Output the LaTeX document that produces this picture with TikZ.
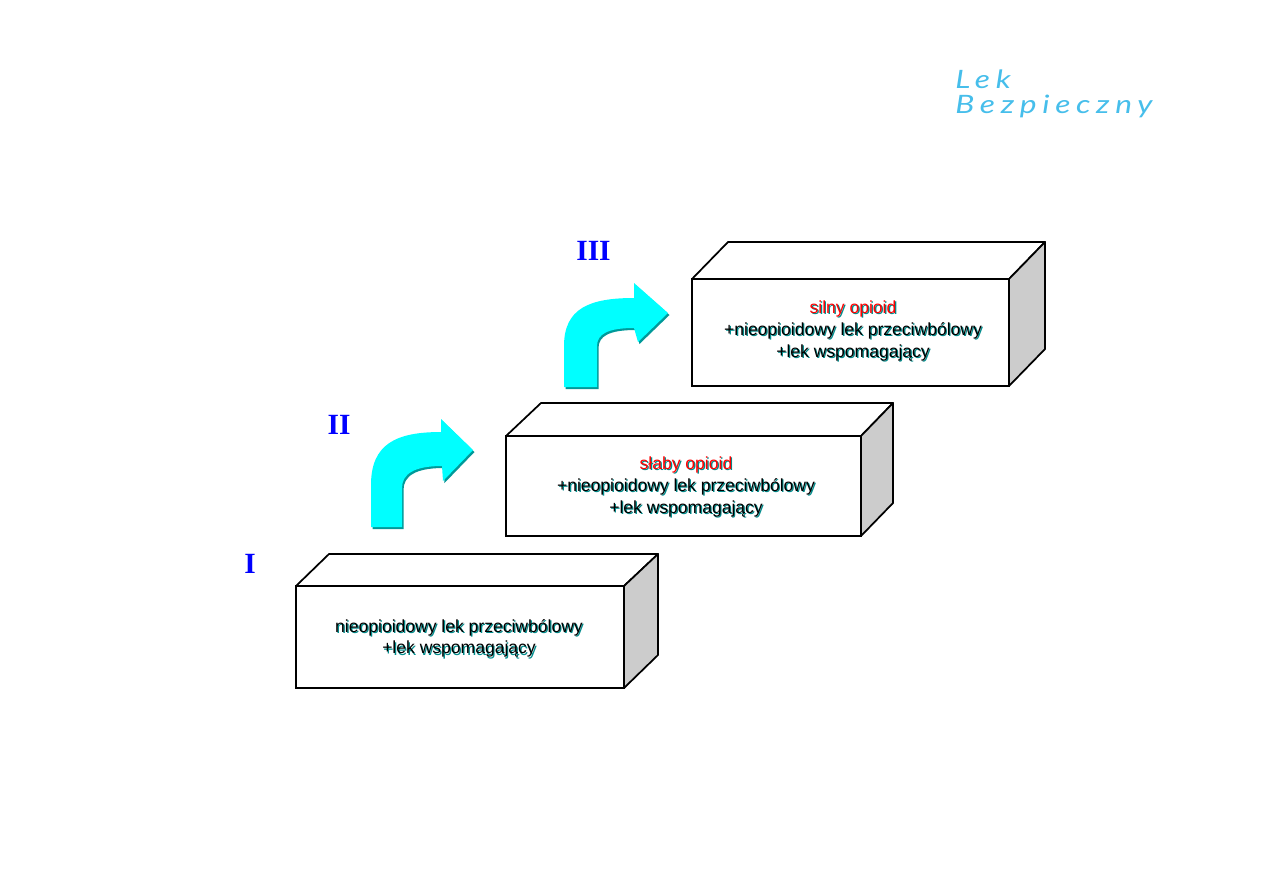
\documentclass[tikz,border=0pt]{standalone}
\usepackage{fontspec}
\setmainfont{Liberation Sans}
\newfontfamily\numeralfont{Liberation Serif}
\newfontfamily\logofont[LetterSpace=18]{Lato Italic}
\definecolor{stepblue}{RGB}{0,0,255}
\definecolor{arrowcyan}{RGB}{0,255,255}
\definecolor{arrowteal}{RGB}{0,153,153}
\definecolor{sidegrey}{RGB}{204,204,204}
\definecolor{logoblue}{RGB}{70,190,235}
\definecolor{texteal}{RGB}{0,140,140}
% body text with a one-pixel teal drop shadow
\newcommand{\shadowtxt}[2][black]{\leavevmode\rlap{\kern0.9pt\raisebox{-0.9pt}{\textcolor{texteal}{#2}}}\textcolor{#1}{#2}}
% outlines of the two bent arrows
\newcommand{\arrowlower}{(371,527) -- (402,527) -- (402,488) .. controls (402,474) and (414,466) .. (442,466)
  -- (443,481) -- (473,450) -- (441,419) -- (441,432)
  .. controls (396,432) and (371,444) .. (371,485) -- cycle}
\newcommand{\arrowupper}{(564,387) -- (597,387) -- (597,346) .. controls (597,334) and (608,328) .. (634,328)
  -- (638,342) -- (668,313) -- (634,283) -- (634,298)
  .. controls (590,298) and (564,308) .. (564,346) -- cycle}
\tikzset{
  front/.style={draw=black,line width=1.7pt,fill=white},
  edge/.style={draw=black,line width=1.3pt,line join=round},
  sideface/.style={edge,fill=sidegrey},
  boxtext/.style={font=\fontsize{13.15}{16.4}\selectfont,align=center,inner sep=0pt},
  numeral/.style={font=\fontsize{22}{22}\selectfont\numeralfont\bfseries,text=stepblue,inner sep=0pt},
  logotext/.style={font=\fontsize{19}{19}\selectfont\logofont,text=logoblue,inner sep=0pt,anchor=base west,xscale=1.25,transform shape},
  bentfill/.style={fill=arrowcyan},
  bentshade/.style={fill=arrowteal,shift={(1.5,2)}}
}
\begin{document}
\begin{tikzpicture}[x=0.75pt,y=-0.75pt]
\useasboundingbox (0,0) rectangle (1263,893);
\fill[white] (0,0) rectangle (1263,893);

% top faces and side faces of the three blocks
\draw[edge,fill=white] (296,586) -- (329,554) -- (658,554) -- (624,586) -- cycle;
\draw[sideface] (624,586) -- (658,554) -- (658,655) -- (624,688) -- cycle;
\draw[edge,fill=white] (506,436) -- (541,403) -- (893,403) -- (861,436) -- cycle;
\draw[sideface] (861,436) -- (893,403) -- (893,503) -- (861,536) -- cycle;
\draw[edge,fill=white] (692,279) -- (728,242) -- (1045,242) -- (1009,279) -- cycle;
\draw[sideface] (1009,279) -- (1045,242) -- (1045,349) -- (1009,386) -- cycle;

% front faces
\draw[front] (296,586) rectangle (624,688);
\draw[front] (506,436) rectangle (861,536);
\draw[front] (692,279) rectangle (1009,386);

% block captions
\node[boxtext] (stepone) at (459,639) {\shadowtxt{nieopioidowy lek przeciwbólowy}\\\shadowtxt{+lek wspomagający}};
\node[boxtext] (steptwo) at (686,487.5) {\shadowtxt[red]{słaby opioid}\\\shadowtxt{+nieopioidowy lek przeciwbólowy}\\\shadowtxt{+lek wspomagający}};
\node[boxtext] (stepthree) at (853,331.5) {\shadowtxt[red]{silny opioid}\\\shadowtxt{+nieopioidowy lek przeciwbólowy}\\\shadowtxt{+lek wspomagający}};

% step numerals
\node[numeral] (numone) at (250,564) {I};
\node[numeral] (numtwo) at (339,425) {II};
\node[numeral] (numthree) at (593.5,251) {III};

% bent arrows between the steps
\path[bentshade] \arrowlower;
\path[bentfill] \arrowlower;
\path[bentshade] \arrowupper;
\path[bentfill] \arrowupper;

% wordmark
\node[logotext] (logoa) at (955,88) {Lek};
\node[logotext] (logob) at (955,113) {Bezpieczny};
\end{tikzpicture}
\end{document}
